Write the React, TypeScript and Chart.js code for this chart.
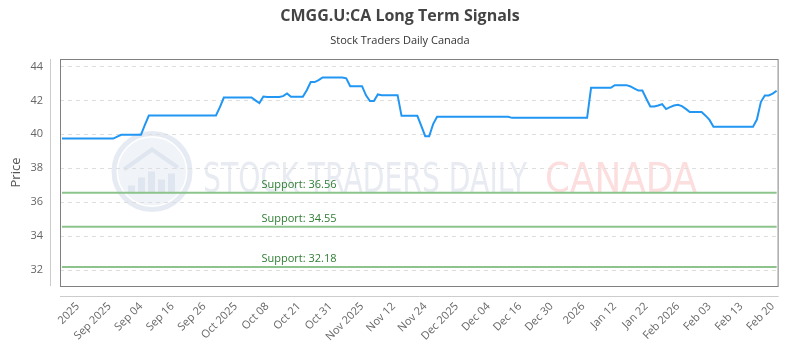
import React, { useEffect, useRef } from 'react';
import { Chart, registerables } from 'chart.js';

Chart.register(...registerables);

const chartTitle = 'CMGG.U:CA Long Term Signals';
const chartSubtitle = 'Stock Traders Daily Canada';
const yAxisTitle = 'Price';

const tickLabels = [
  '2025', 'Sep 2025', 'Sep 04', 'Sep 16', 'Sep 26', 'Oct 2025', 'Oct 08', 'Oct 21', 'Oct 31',
  'Nov 2025', 'Nov 12', 'Nov 24', 'Dec 2025', 'Dec 04', 'Dec 16', 'Dec 30', '2026', 'Jan 12',
  'Jan 22', 'Feb 2026', 'Feb 03', 'Feb 13', 'Feb 20',
];
const firstTickIndex = 4;
const tickEvery = 8;

const prices = [
  39.75, 39.75, 39.75, 39.75, 39.75, 39.75, 39.75, 39.75, 39.75, 39.75,
  39.75, 39.75, 39.75, 39.75, 39.86, 39.97, 39.97, 39.97, 39.97, 39.97,
  39.97, 40.55, 41.11, 41.11, 41.11, 41.11, 41.11, 41.11, 41.11, 41.11,
  41.11, 41.11, 41.11, 41.11, 41.11, 41.11, 41.11, 41.11, 41.11, 41.11,
  41.6, 42.17, 42.17, 42.17, 42.17, 42.17, 42.17, 42.17, 42.17, 42.0,
  41.84, 42.23, 42.2, 42.2, 42.2, 42.2, 42.25, 42.41, 42.21, 42.21,
  42.21, 42.21, 42.6, 43.08, 43.08, 43.2, 43.35, 43.35, 43.35, 43.35,
  43.35, 43.35, 43.3, 42.84, 42.84, 42.84, 42.84, 42.3, 41.96, 41.96,
  42.35, 42.31, 42.31, 42.31, 42.31, 42.31, 41.09, 41.09, 41.09, 41.09,
  41.09, 40.5, 39.89, 39.89, 40.6, 41.03, 41.03, 41.03, 41.03, 41.03,
  41.03, 41.03, 41.03, 41.03, 41.03, 41.03, 41.03, 41.03, 41.03, 41.03,
  41.03, 41.03, 41.03, 41.03, 40.97, 40.97, 40.97, 40.97, 40.97, 40.97,
  40.97, 40.97, 40.97, 40.97, 40.97, 40.97, 40.97, 40.97, 40.97, 40.97,
  40.97, 40.97, 40.97, 40.97, 42.74, 42.74, 42.74, 42.74, 42.74, 42.74,
  42.9, 42.9, 42.9, 42.9, 42.82, 42.7, 42.58, 42.58, 42.1, 41.64,
  41.64, 41.7, 41.78, 41.49, 41.6, 41.7, 41.74, 41.66, 41.5, 41.31,
  41.31, 41.31, 41.31, 41.1, 40.85, 40.44, 40.44, 40.44, 40.44, 40.44,
  40.44, 40.44, 40.44, 40.44, 40.44, 40.44, 40.87, 41.9, 42.29, 42.29,
  42.4, 42.57,
];

const supportLevels = [36.56, 34.55, 32.18];
const supportLabelIndex = 50;
const yTickValues = [32, 34, 36, 38, 40, 42, 44];
const yMin = 31.06;
const yMax = 44.44;

const categories = prices.map((_, i) => {
  const k = (i - firstTickIndex) / tickEvery;
  return Number.isInteger(k) && k >= 0 && k < tickLabels.length ? tickLabels[k] : '';
});

const FONT = '"Open Sans", "DejaVu Sans", sans-serif';

const decorPlugin = {
  id: 'decor',
  beforeDraw(chart: any) {
    const { ctx, chartArea: a, width, height } = chart;
    ctx.save();
    ctx.fillStyle = '#ffffff';
    ctx.fillRect(0, 0, width, height);

    ctx.textAlign = 'center';
    ctx.textBaseline = 'middle';
    ctx.fillStyle = '#444444';
    ctx.font = `bold 16px ${FONT}`;
    ctx.fillText(chartTitle, width / 2, 16);
    ctx.fillStyle = '#333333';
    ctx.font = `11px ${FONT}`;
    ctx.fillText(chartSubtitle, width / 2, 41);

    // watermark logo
    const cx = a.left + 92;
    const cy = (a.top + a.bottom) / 2 - 1;
    ctx.strokeStyle = '#e6ebf3';
    ctx.lineWidth = 5;
    ctx.beginPath();
    ctx.arc(cx, cy, 38, 0, Math.PI * 2);
    ctx.stroke();
    ctx.fillStyle = '#f0f4f9';
    ctx.beginPath();
    ctx.arc(cx, cy, 34, 0, Math.PI * 2);
    ctx.fill();
    ctx.fillStyle = '#e0e6ef';
    const bars = [[-24, 8], [-14, 16], [-4, 22], [6, 14], [16, 20]];
    bars.forEach(([dx, h]) => ctx.fillRect(cx + dx, cy + 22 - h, 7, h));
    ctx.strokeStyle = '#e0e6ef';
    ctx.lineWidth = 4;
    ctx.beginPath();
    ctx.moveTo(cx - 28, cy - 2);
    ctx.lineTo(cx, cy - 22);
    ctx.lineTo(cx + 26, cy - 4);
    ctx.stroke();

    // watermark text
    ctx.textAlign = 'left';
    ctx.textBaseline = 'alphabetic';
    ctx.font = `40px "DejaVu Sans", sans-serif`;
    const t1 = 'STOCK TRADERS DAILY';
    const w1 = ctx.measureText(t1).width;
    ctx.save();
    ctx.translate(a.left + 143, 192);
    ctx.scale(324 / w1, 1);
    ctx.fillStyle = '#e8ecf2';
    ctx.fillText(t1, 0, 0);
    ctx.restore();
    const t2 = 'CANADA';
    const w2 = ctx.measureText(t2).width;
    ctx.save();
    ctx.translate(a.left + 485, 192);
    ctx.scale(152 / w2, 1);
    ctx.fillStyle = '#fcdede';
    ctx.fillText(t2, 0, 0);
    ctx.restore();
    ctx.restore();
  },
  afterDatasetsDraw(chart: any) {
    const { ctx, chartArea: a, scales } = chart;
    ctx.save();
    ctx.font = `11px ${FONT}`;
    ctx.fillStyle = '#2e7d32';
    ctx.textAlign = 'left';
    ctx.textBaseline = 'alphabetic';
    supportLevels.forEach((lvl) => {
      const y = scales.y.getPixelForValue(lvl);
      const x = scales.x.getPixelForValue(supportLabelIndex) + 2;
      ctx.fillText(`Support: ${lvl.toFixed(2)}`, x, y - 4.5);
    });

    ctx.strokeStyle = '#808080';
    ctx.lineWidth = 1;
    ctx.strokeRect(a.left + 0.5, a.top + 0.5, a.right - a.left - 1, a.bottom - a.top);
    ctx.strokeStyle = '#cccccc';
    ctx.beginPath();
    ctx.moveTo(a.left - 9.5, a.top);
    ctx.lineTo(a.left - 9.5, a.bottom);
    ctx.moveTo(a.left, a.bottom + 10.5);
    ctx.lineTo(a.right, a.bottom + 10.5);
    ctx.stroke();
    ctx.restore();
  },
};

export default function App() {
  const canvasRef = useRef<HTMLCanvasElement | null>(null);

  useEffect(() => {
    const canvas = canvasRef.current;
    if (!canvas) return;
    const chart = new Chart(canvas, {
      type: 'line',
      data: {
        labels: categories,
        datasets: [
          {
            label: 'Price',
            data: prices,
            borderColor: '#2196f3',
            borderWidth: 2,
            pointRadius: 0,
            tension: 0,
            fill: false,
            order: 0,
          },
          ...supportLevels.map((lvl) => ({
            label: `Support ${lvl}`,
            data: prices.map(() => lvl),
            borderColor: '#8dc48d',
            borderWidth: 2,
            pointRadius: 0,
            fill: false,
            order: 1,
          })),
        ],
      },
      options: {
        animation: false,
        responsive: false,
        maintainAspectRatio: false,
        layout: { padding: { top: 59, right: 10, left: 0, bottom: 0 } },
        plugins: {
          legend: { display: false },
          tooltip: { enabled: false },
          title: { display: false },
        },
        scales: {
          x: {
            type: 'category',
            offset: true,
            grid: { display: false, drawTicks: false },
            border: { display: false },
            ticks: {
              autoSkip: false,
              minRotation: 45,
              maxRotation: 45,
              padding: 14,
              color: '#666666',
              font: { family: FONT, size: 11 },
              callback: (_v: any, i: number) => categories[i],
            },
            afterFit: (scale: any) => {
              scale.height = 64;
            },
          },
          y: {
            min: yMin,
            max: yMax,
            grid: {
              color: '#dedede',
              drawTicks: false,
            },
            border: { display: false, dash: [4, 4] },
            afterBuildTicks: (scale: any) => {
              scale.ticks = yTickValues.map((v) => ({ value: v }));
            },
            ticks: {
              padding: 17,
              color: '#666666',
              font: { family: FONT, size: 11 },
            },
            title: {
              display: true,
              text: yAxisTitle,
              color: '#555555',
              font: { family: FONT, size: 13 },
              padding: { top: 8, bottom: 0 },
            },
            afterFit: (scale: any) => {
              scale.width = 60;
            },
          },
        },
      },
      plugins: [decorPlugin],
    } as any);
    return () => chart.destroy();
  }, []);

  return (
    <div style={{ position: 'fixed', left: 0, top: 0, width: 800, height: 350 }}>
      <canvas ref={canvasRef} width={800} height={350} style={{ display: 'block' }} />
    </div>
  );
}
